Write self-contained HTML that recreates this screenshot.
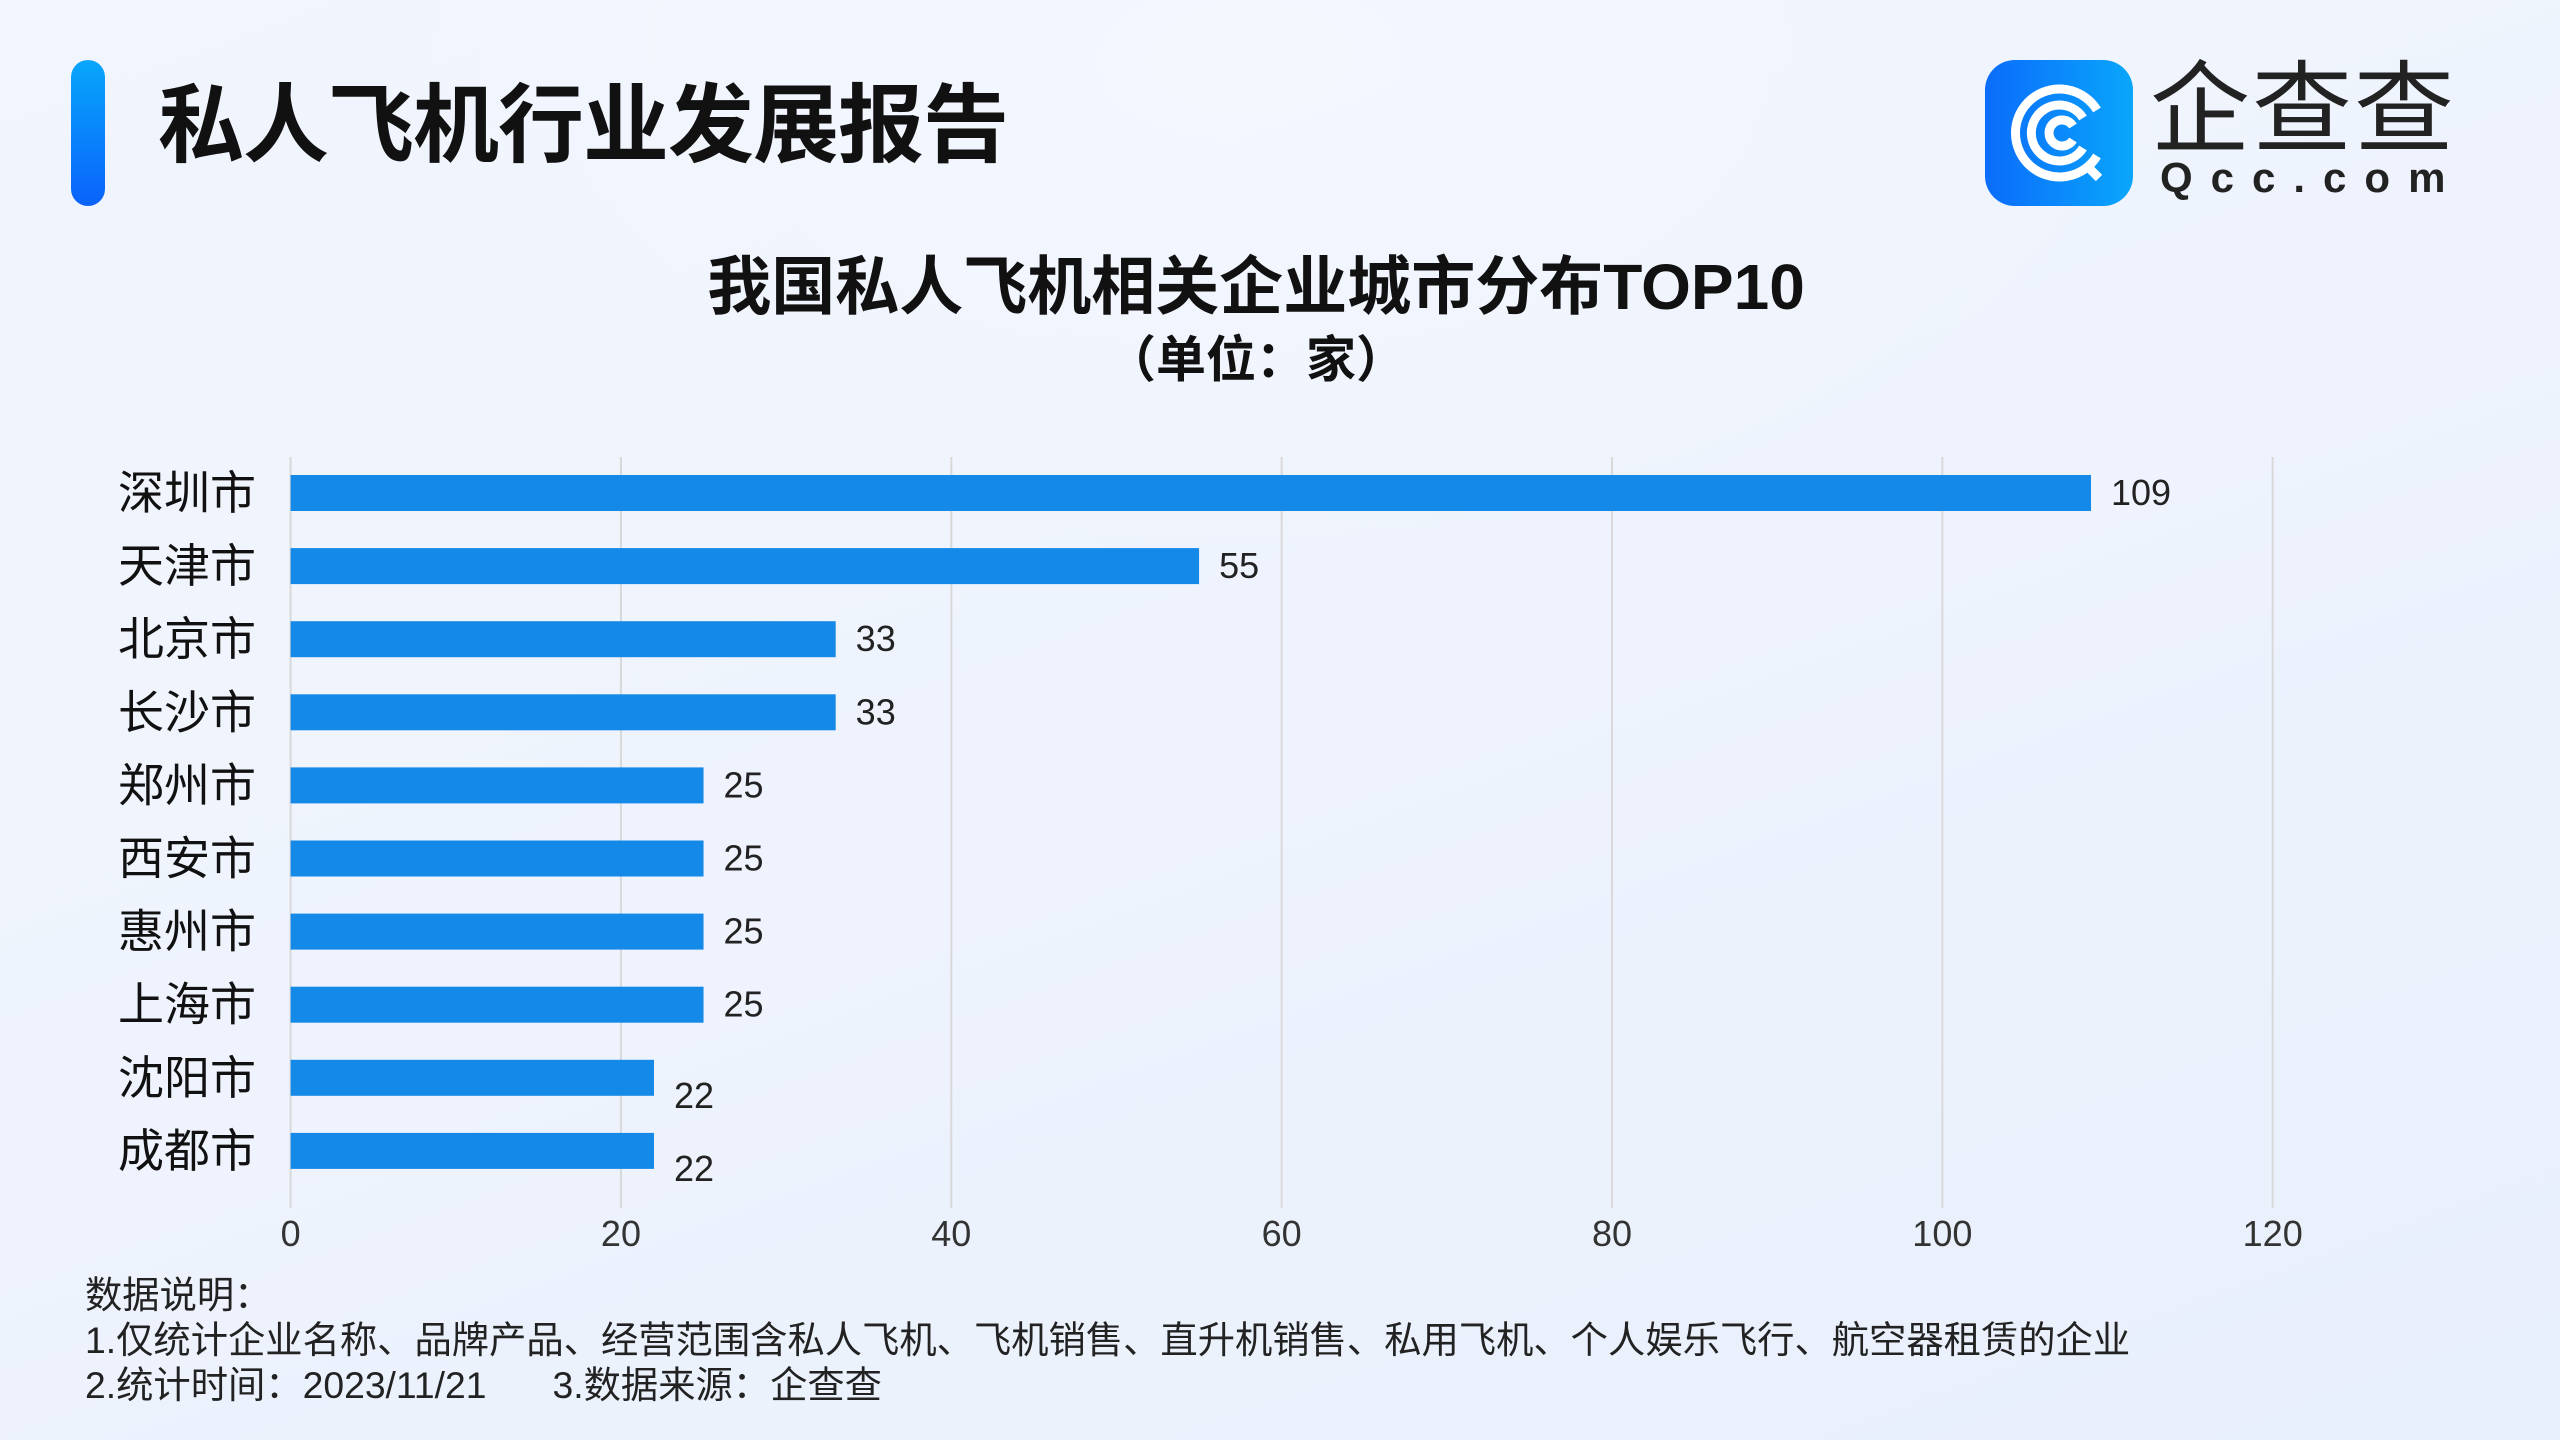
<!DOCTYPE html>
<html><head><meta charset="utf-8">
<style>
html,body{margin:0;padding:0}
body{width:2560px;height:1440px;position:relative;overflow:hidden;
background:radial-gradient(ellipse 900px 500px at 1250px 60px,#f3f7fe 0%,rgba(243,247,254,0) 100%),linear-gradient(160deg,#f1f5fd 0%,#eef3fd 50%,#e8f0fc 100%);
font-family:"Liberation Sans","Noto Sans CJK SC",sans-serif;color:#111}
.abs{position:absolute}
</style></head><body>
<div class="abs" style="left:71px;top:60px;width:34px;height:146px;border-radius:17px;background:linear-gradient(180deg,#08a6fb,#0a63fb)"></div>
<div class="abs" style="left:158px;top:76px;font-size:86px;font-weight:bold;line-height:100px;letter-spacing:-1px;white-space:nowrap">私人飞机行业发展报告</div>
<div class="abs" style="left:1985px;top:60px;width:148px;height:146px">
 <svg width="148" height="146" viewBox="0 0 148 146">
  <defs><linearGradient id="lg" x1="0" x2="1"><stop offset="0" stop-color="#0a6cfb"/><stop offset="1" stop-color="#0aa6fb"/></linearGradient></defs>
  <rect width="148" height="146" rx="30" fill="url(#lg)"/>
  <g fill="none" stroke="#fff" stroke-width="9" stroke-linecap="butt">
   <path d="M112 96 A44 44 0 1 1 112 50"/>
   <path d="M98 88 A28 28 0 1 1 98 58"/>
   <path d="M88 80 A13 13 0 1 1 88 66"/>
   <path d="M100 104 L114 118"/>
  </g>
 </svg>
</div>
<div class="abs" style="left:2150px;top:60px;font-size:100px;line-height:100px;color:#222;letter-spacing:2px;white-space:nowrap">企查查</div>
<div class="abs" style="left:2160px;top:156px;font-size:42px;font-weight:bold;line-height:44px;color:#222;letter-spacing:18px;white-space:nowrap">Qcc.com</div>
<div class="abs" style="left:0;width:2512px;top:250px;text-align:center;font-size:64px;font-weight:bold;line-height:74px">我国私人飞机相关企业城市分布TOP10</div>
<div class="abs" style="left:0;width:2512px;top:330px;text-align:center;font-size:50px;font-weight:bold;line-height:60px">（单位：家）</div>
<svg class="abs" style="left:0;top:0" width="2560" height="1440" id="chart"></svg>
<div class="abs" style="left:85px;top:1273px;font-size:37.3px;line-height:45px;color:#222;white-space:nowrap">数据说明：<br>1.仅统计企业名称、品牌产品、经营范围含私人飞机、飞机销售、直升机销售、私用飞机、个人娱乐飞行、航空器租赁的企业<br>2.统计时间：2023/11/21<span style="display:inline-block;width:66px"></span>3.数据来源：企查查</div>
<script>
const cities=["深圳市","天津市","北京市","长沙市","郑州市","西安市","惠州市","上海市","沈阳市","成都市"];
const values=[109,55,33,33,25,25,25,25,22,22];
const ticks=[0,20,40,60,80,100,120];
const NS="http://www.w3.org/2000/svg";
const svg=document.getElementById('chart');
const x0=290.6,x1=2272.7,xmax=120;
const xs=v=>x0+(x1-x0)*v/xmax;
const ys=i=>493+73.1*i;
function mk(t,a){const e=document.createElementNS(NS,t);for(const k in a)e.setAttribute(k,a[k]);svg.appendChild(e);return e;}
ticks.forEach(t=>{
 const l=mk('line',{x1:xs(t),x2:xs(t),y1:457,y2:1208,stroke:'#d9d9d9','stroke-width':2});
 
 
 const tx=mk('text',{x:xs(t),y:1246,'text-anchor':'middle','font-size':36,fill:'#333','font-family':'Liberation Sans, sans-serif'});
 tx.textContent=t;
 
 
});
cities.forEach((c,i)=>{
 const y=ys(i);
 const lb=mk('text',{x:256,y:y+16,'text-anchor':'end','font-size':46,fill:'#111','font-family':'Liberation Sans, Noto Sans CJK SC, sans-serif'});
 lb.textContent=c;
 
 
 const b=mk('rect',{x:xs(0),y:y-18,width:xs(values[i])-xs(0),height:36,fill:'#1589e8'});
 
 
 const off=values[i]<=22?30:12;
 const v=mk('text',{x:xs(values[i])+20,y:y+off,'font-size':36,fill:'#222','font-family':'Liberation Sans, sans-serif'});
 v.textContent=values[i];
 
 
});
</script>
</body></html>
